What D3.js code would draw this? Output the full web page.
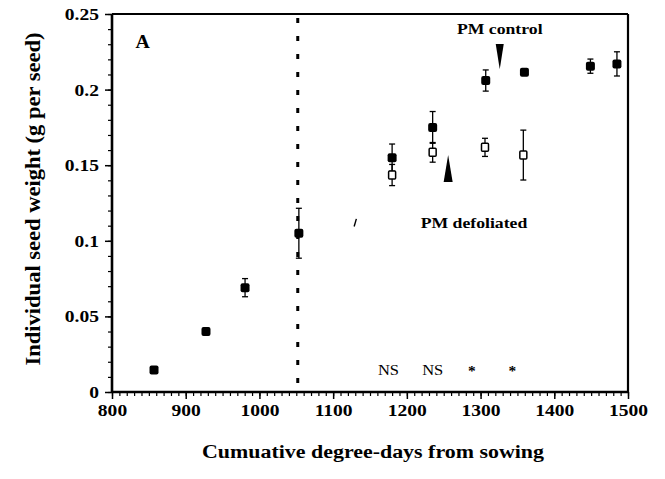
<!DOCTYPE html>
<html>
<head>
<meta charset="utf-8">
<script src="https://cdn.jsdelivr.net/npm/d3@7"></script>
<style>
  html, body { margin: 0; padding: 0; background: #fff; }
  svg { display: block; }
  text { font-family: "Liberation Serif", "Times New Roman", serif; fill: #000; }
</style>
</head>
<body>
<svg id="chart" width="665" height="479"></svg>
<script>
// ---------------- data ----------------
const xTicks = [800, 900, 1000, 1100, 1200, 1300, 1400, 1500];
const yTicks = [0, 0.05, 0.1, 0.15, 0.2, 0.25];
const yTickLabels = ["0", "0.05", "0.1", "0.15", "0.2", "0.25"];

// Control plants (filled symbols)
const controlX   = [857, 927.5, 980.5, 1053.5, 1180, 1235, 1307, 1359.5, 1449, 1485];
const controlY   = [0.0145, 0.040, 0.069, 0.105, 0.155, 0.175, 0.206, 0.2115, 0.2155, 0.217];
const controlErr = [0.002, 0, 0.006, 0.0165, 0.009, 0.0105, 0.007, 0, 0.0047, 0.008];

// Defoliated plants (open symbols)
const defolX   = [1180, 1235, 1306, 1358];
const defolY   = [0.1435, 0.1585, 0.1618, 0.1567];
const defolErr = [0.007, 0.0065, 0.006, 0.0165];

// Defoliation time (dotted line)
const defoliationX = 1052;

// Physiological maturity arrows
const pmArrows = [
  { label: "PM control",    dir: "down", x: 1326, yTop: 0.2302, yTip: 0.2135, textY: 0.2368, textX: 1326 },
  { label: "PM defoliated", dir: "up",   x: 1256, yTop: 0.1567, yTip: 0.1389, textY: 0.1085, textX: 1291 }
];

// Significance labels
const sigLabels = ["NS", "NS", "*", "*"];
const sigX      = [1175, 1235, 1288, 1343];
const sigY      = 0.0115;

const panelLabel = "A";
const xTitle = "Cumuative degree-days from sowing";
const yTitle = "Individual seed weight (g per seed)";

// ---------------- layout ----------------
const W = 665, H = 479;
const margin = { left: 112, top: 14, right: 37, bottom: 87 };
const iw = W - margin.left - margin.right;
const ih = H - margin.top - margin.bottom;

const svg = d3.select("#chart");
const g = svg.append("g").attr("transform", `translate(${margin.left},${margin.top})`);

const x = d3.scaleLinear().domain([800, 1500]).range([0, iw]);
const y = d3.scaleLinear().domain([0, 0.25]).range([ih, 0]);

const SX = 1.15; // horizontal stretch of scanned lettering

// minor ticks
g.append("g").attr("transform", `translate(0,${ih})`)
  .call(d3.axisBottom(x).tickValues(d3.range(800, 1501, 10)).tickSize(4).tickFormat(""))
  .call(s => s.select(".domain").remove())
  .call(s => s.selectAll("line").attr("stroke-width", 1.2));
g.append("g")
  .call(d3.axisLeft(y).tickValues(d3.range(0, 0.2501, 0.01)).tickSize(4).tickFormat(""))
  .call(s => s.select(".domain").remove())
  .call(s => s.selectAll("line").attr("stroke-width", 1.2));

// major axes
const xAxis = g.append("g").attr("transform", `translate(0,${ih})`)
  .call(d3.axisBottom(x).tickValues(xTicks).tickSize(7).tickPadding(5).tickSizeOuter(0).tickFormat(d3.format("d")));
const yAxis = g.append("g")
  .call(d3.axisLeft(y).tickValues(yTicks).tickSize(7).tickPadding(6).tickSizeOuter(0)
        .tickFormat((d, i) => yTickLabels[i]));

[xAxis, yAxis].forEach(a => {
  a.select(".domain").remove();
  a.selectAll("line").attr("stroke-width", 1.5);
  a.selectAll("text").attr("font-size", 17).attr("font-weight", "bold")
    .style("font-family", '"Liberation Serif", serif');
});
xAxis.selectAll("text").attr("transform", `scale(${SX},1)`);
yAxis.selectAll("text").each(function () {
  const t = d3.select(this);
  t.attr("x", +t.attr("x") / SX).attr("transform", `scale(${SX},1)`);
});

// frame
g.append("line").attr("x1", 0).attr("x2", 0).attr("y1", 0).attr("y2", ih).attr("stroke", "#000").attr("stroke-width", 2.6);
g.append("line").attr("x1", 0).attr("x2", iw).attr("y1", ih).attr("y2", ih).attr("stroke", "#000").attr("stroke-width", 2.6);
g.append("line").attr("x1", 0).attr("x2", iw).attr("y1", 0).attr("y2", 0).attr("stroke", "#000").attr("stroke-width", 1.8);
g.append("line").attr("x1", iw).attr("x2", iw).attr("y1", 0).attr("y2", ih).attr("stroke", "#000").attr("stroke-width", 2.2);

// dotted defoliation line
g.append("line")
  .attr("x1", x(defoliationX)).attr("x2", x(defoliationX))
  .attr("y1", y(0.25) + 4).attr("y2", y(0))
  .attr("stroke", "#000").attr("stroke-width", 3)
  .attr("stroke-dasharray", "5,13");

// error bars helper
function errorBars(xs, ys, es) {
  const sel = g.append("g").attr("stroke", "#000").attr("stroke-width", 1.3);
  xs.forEach((xv, i) => {
    const e = es[i];
    if (!e) return;
    const cx = x(xv), y1 = y(ys[i] + e), y2 = y(ys[i] - e);
    sel.append("line").attr("x1", cx).attr("x2", cx).attr("y1", y1).attr("y2", y2);
    sel.append("line").attr("x1", cx - 3).attr("x2", cx + 3).attr("y1", y1).attr("y2", y1);
    sel.append("line").attr("x1", cx - 3).attr("x2", cx + 3).attr("y1", y2).attr("y2", y2);
  });
}
errorBars(defolX, defolY, defolErr);
errorBars(controlX, controlY, controlErr);

// open symbols (defoliated)
g.append("g").selectAll("rect").data(defolX).join("rect")
  .attr("x", (d) => x(d) - 3.5).attr("y", (d, i) => y(defolY[i]) - 4)
  .attr("width", 7).attr("height", 8).attr("rx", 1)
  .attr("fill", "#fff").attr("stroke", "#000").attr("stroke-width", 1.5);

// filled symbols (control)
g.append("g").selectAll("rect").data(controlX).join("rect")
  .attr("x", (d) => x(d) - 4.5).attr("y", (d, i) => y(controlY[i]) - 4.5)
  .attr("width", 9).attr("height", 9).attr("rx", 2)
  .attr("fill", "#000");

// PM arrows (wedges)
pmArrows.forEach(a => {
  const cx = x(a.x);
  let pts;
  if (a.dir === "down") {
    pts = [[cx - 4, y(a.yTop)], [cx + 4, y(a.yTop)], [cx, y(a.yTip)]];
  } else {
    pts = [[cx - 4.5, y(a.yTip)], [cx + 4.5, y(a.yTip)], [cx, y(a.yTop)]];
  }
  g.append("path").attr("d", d3.line()(pts) + "Z").attr("fill", "#000");
  g.append("text").attr("x", 0).attr("y", 0)
    .attr("transform", `translate(${x(a.textX)},${y(a.textY)}) scale(1.18,1)`)
    .attr("text-anchor", "middle").attr("font-size", 15).attr("font-weight", "bold")
    .text(a.label);
});

// small stray mark
g.append("line")
  .attr("x1", x(1128.5)).attr("y1", y(0.1095))
  .attr("x2", x(1131.5)).attr("y2", y(0.1145))
  .attr("stroke", "#000").attr("stroke-width", 1.4);

// significance labels
g.append("g").selectAll("text").data(sigLabels).join("text")
  .attr("transform", (d, i) => `translate(${x(sigX[i])},${y(sigY) + (d === "*" ? 1 : 0)}) scale(1.1,1)`)
  .attr("text-anchor", "middle")
  .attr("font-size", (d) => d === "*" ? 14 : 15)
  .attr("font-weight", (d) => d === "*" ? "bold" : "normal")
  .text(d => d);

// panel label
g.append("text").attr("transform", `translate(${x(832)},${y(0.2275)}) scale(1.1,1)`)
  .attr("font-size", 18).attr("font-weight", "bold").text(panelLabel);

// axis titles
svg.append("text")
  .attr("x", margin.left + iw / 2 + 3).attr("y", 458)
  .attr("text-anchor", "middle").attr("font-size", 18).attr("font-weight", "bold")
  .attr("textLength", 342).attr("lengthAdjust", "spacingAndGlyphs")
  .text(xTitle);

svg.append("text")
  .attr("transform", `translate(40,${margin.top + ih / 2 - 4}) rotate(-90)`)
  .attr("text-anchor", "middle").attr("font-size", 21).attr("font-weight", "bold")
  .attr("textLength", 333).attr("lengthAdjust", "spacingAndGlyphs")
  .text(yTitle);
</script>
</body>
</html>
